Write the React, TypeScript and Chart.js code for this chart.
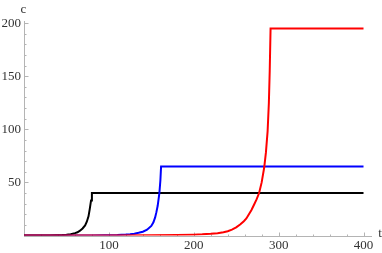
import React, { useEffect, useRef } from "react";
import { Chart, registerables } from "chart.js";

Chart.register(...registerables);

// Series (t, c)
const blackT = [0, 30, 45, 50, 55, 60, 63, 66, 69, 72, 74, 76, 77.5, 79, 80, 400];
const blackC = [0, 0.1, 0.4, 0.7, 1.2, 2.2, 3, 4.5, 6.6, 9.5, 13, 18, 25, 33, 40, 40];

const blueT = [0, 80, 110, 120, 125, 130, 135, 140, 145, 150, 152.5, 154.5, 156, 157.5, 159.5, 160.7, 161.5, 400];
const blueC = [0, 0.1, 0.5, 0.9, 1.2, 1.7, 2.6, 3.6, 5.4, 9, 12.5, 17, 22, 28, 40, 52, 65, 65];

const redT = [0, 100, 150, 180, 200, 210, 220, 228, 235, 240, 245, 250, 255, 259, 262, 265, 268, 271, 274, 277, 280, 283, 285, 287, 288.5, 289.5, 290.5, 400];
const redC = [0, 0.1, 0.3, 0.5, 0.8, 1.1, 1.6, 2.2, 3, 4, 5.5, 7.6, 10.5, 13.5, 16, 20, 24, 29, 34, 40, 50, 64, 78, 98, 125, 155, 195, 195];

const xTickLabels = [100, 200, 300, 400];
const yTickLabels = [50, 100, 150, 200];
const xLabel = "t";
const yLabel = "c";

const FONT = "13px 'Liberation Serif', 'Times New Roman', serif";

const toPts = (t: number[], c: number[]) => t.map((v, i) => ({ x: v, y: c[i] }));

const axesPlugin = {
  id: "mmaAxes",
  beforeDatasetsDraw(chart: any) {
    const { ctx, chartArea } = chart;
    const xs = chart.scales.x;
    const ys = chart.scales.y;
    const x0 = Math.round(xs.getPixelForValue(0)) + 0.5;
    const y0 = Math.round(ys.getPixelForValue(0)) + 0.5;
    ctx.save();
    ctx.strokeStyle = "#b4b4b4";
    ctx.lineWidth = 1;
    ctx.beginPath();
    ctx.moveTo(chartArea.left, y0);
    ctx.lineTo(chartArea.right, y0);
    ctx.moveTo(x0, chartArea.top);
    ctx.lineTo(x0, chartArea.bottom);
    ctx.stroke();
    ctx.beginPath();
    for (let v = 20; v <= 400; v += 20) {
      const px = Math.round(xs.getPixelForValue(v)) + 0.5;
      const len = v % 100 === 0 ? 4 : 2;
      ctx.moveTo(px, y0);
      ctx.lineTo(px, y0 - len);
    }
    for (let v = 10; v <= 200; v += 10) {
      const py = Math.round(ys.getPixelForValue(v)) + 0.5;
      const len = v % 50 === 0 ? 4 : 2;
      ctx.moveTo(x0, py);
      ctx.lineTo(x0 + len, py);
    }
    ctx.stroke();
    ctx.fillStyle = "#333";
    ctx.font = FONT;
    ctx.textAlign = "center";
    ctx.textBaseline = "middle";
    xTickLabels.forEach((v) => {
      ctx.fillText(String(v), xs.getPixelForValue(v), y0 + 9.5);
    });
    ctx.textAlign = "right";
    yTickLabels.forEach((v) => {
      ctx.fillText(String(v), x0 - 3.5, ys.getPixelForValue(v) + 0.5);
    });
    ctx.textAlign = "center";
    ctx.fillText(xLabel, chartArea.right + 8, y0 - 3);
    ctx.fillText(yLabel, x0 - 1, chartArea.top - 11);
    ctx.restore();
  },
};

export default function App() {
  const ref = useRef<HTMLCanvasElement | null>(null);
  useEffect(() => {
    if (!ref.current) return;
    const chart = new Chart(ref.current, {
      type: "line",
      data: {
        datasets: [
          { label: "black", data: toPts(blackT, blackC), borderColor: "#000000", borderWidth: 2, pointRadius: 0, tension: 0, order: 3 },
          { label: "blue", data: toPts(blueT, blueC), borderColor: "#0000ff", borderWidth: 2, pointRadius: 0, tension: 0, order: 2 },
          { label: "red", data: toPts(redT, redC), borderColor: "#ff0000", borderWidth: 2, pointRadius: 0, tension: 0, order: 1 },
        ],
      },
      options: {
        animation: false,
        responsive: false,
        maintainAspectRatio: false,
        parsing: false as any,
        layout: { padding: { left: 24, top: 21, right: 10, bottom: 17.5 } },
        plugins: { legend: { display: false }, tooltip: { enabled: false } },
        scales: {
          x: { type: "linear", min: 0, max: 410, display: false },
          y: { type: "linear", min: 0, max: 202, display: false },
        },
      },
      plugins: [axesPlugin],
    });
    return () => chart.destroy();
  }, []);
  return (
    <div style={{ position: "fixed", left: 0, top: 0, width: 382, height: 253, background: "#fff" }}>
      <canvas ref={ref} width={382} height={253} style={{ display: "block" }} />
    </div>
  );
}
